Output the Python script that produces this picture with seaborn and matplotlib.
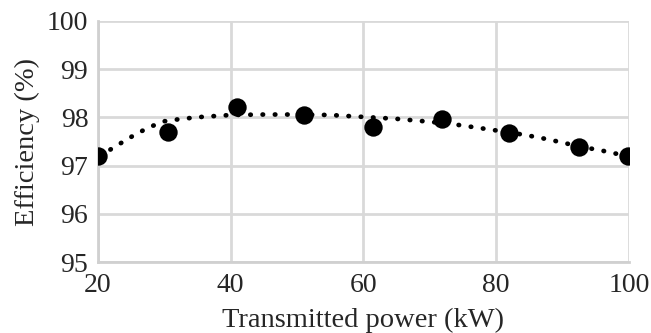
import seaborn as sns
import matplotlib.pyplot as plt
import pandas as pd

power_kw = [20, 30.6, 41, 51, 61.4, 71.9, 82, 92.5, 99.8]
efficiency = [97.2, 97.7, 98.22, 98.06, 97.8, 97.97, 97.68, 97.38, 97.19]

# dotted trend curve
trend_kw = [20.3, 23, 25.3, 27.6, 30, 32.6, 35.6, 40, 45, 50, 55, 60,
            65, 70, 74, 78, 82, 85, 88, 92.5, 96, 99.7]
trend_eff = [97.2, 97.43, 97.62, 97.79, 97.92, 97.97, 98.01, 98.05, 98.06, 98.06,
             98.05, 98.01, 97.97, 97.91, 97.85, 97.77, 97.69, 97.62, 97.54, 97.4,
             97.31, 97.2]

df = pd.DataFrame({'power': power_kw, 'eff': efficiency})
trend = pd.DataFrame({'power': trend_kw, 'eff': trend_eff})

sns.set_style('whitegrid', {'grid.color': '#d9d9d9', 'axes.edgecolor': '#d0d0d0'})
plt.rcParams['font.family'] = ['Liberation Serif', 'DejaVu Serif']

fig = plt.figure(figsize=(6.51, 3.33), dpi=100)
ax = fig.add_axes([0.1505, 0.213, 0.8155, 0.724])

sns.lineplot(data=trend, x='power', y='eff', color='black', linewidth=3.4,
             linestyle=(0, (0.1, 2.5)), dash_capstyle='round', ax=ax)
sns.scatterplot(data=df, x='power', y='eff', color='black', s=175,
                edgecolor='black', linewidth=0, ax=ax, zorder=3)

ax.set_xlim(20, 100)
ax.set_ylim(95, 100)
ax.set_xticks([20, 40, 60, 80, 100])
ax.set_yticks([95, 96, 97, 98, 99, 100])
ax.grid(True, linewidth=2)
for s in ax.spines.values():
    s.set_linewidth(2)
ax.spines['top'].set_visible(False)
ax.spines['right'].set_visible(False)
ax.tick_params(axis='x', labelsize=20, length=0, pad=8)
ax.tick_params(axis='y', labelsize=20, length=0, pad=7)
ax.set_xlabel('Transmitted power (kW)', fontsize=20.5, labelpad=7)
ax.set_ylabel('Efficiency (%)', fontsize=20.5, labelpad=5)

fig.savefig('out.png', dpi=100)
